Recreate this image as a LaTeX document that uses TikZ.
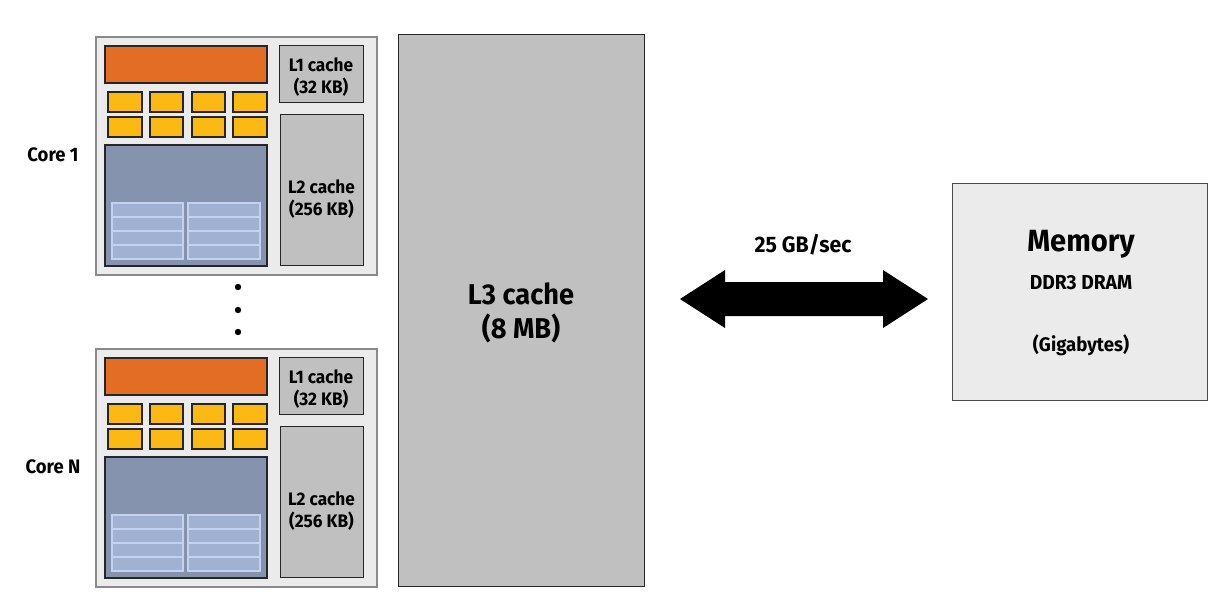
\documentclass[tikz,border=0pt]{standalone}
\usepackage{fontspec}
\setmainfont{Fira Sans}[FakeStretch=0.95,UprightFont=* SemiBold,BoldFont=* Bold]
\usetikzlibrary{positioning}
\definecolor{outerfill}{HTML}{EBEBEB}
\definecolor{outerline}{HTML}{8A8A8A}
\definecolor{cachefill}{HTML}{C0C0C0}
\definecolor{orangec}{HTML}{E46D25}
\definecolor{yellowc}{HTML}{FDB913}
\definecolor{bluec}{HTML}{8593AE}
\definecolor{gridfill}{HTML}{A0B1D2}
\definecolor{gridline}{HTML}{C4D2F2}
\tikzset{
  outerbox/.style={draw=outerline,fill=outerfill,line width=1pt},
  cachebox/.style={draw=black!85,fill=cachefill,line width=1pt},
  orangebox/.style={draw=black!85,fill=orangec,line width=1pt},
  yellowbox/.style={draw=black!85,fill=yellowc,line width=1pt},
  bluebox/.style={draw=black!85,fill=bluec,line width=1pt},
  gridbox/.style={draw=gridline,fill=gridfill,line width=1pt},
  lbl/.style={font=\fontsize{13.6}{16.5}\selectfont\bfseries,align=center,inner sep=0pt},
  corelbl/.style={font=\fontsize{14.6}{16}\selectfont\bfseries,inner sep=0pt},
  bigl/.style={font=\fontsize{21.5}{24}\selectfont\bfseries,align=center,inner sep=0pt},
}
\newcommand{\corebox}[3]{%
\begin{scope}[yshift=#1]
  \draw[outerbox] (96,37) rectangle (377,275);
  \draw[orangebox] (105,46) rectangle (267,83);
  \foreach \xa/\xb in {108/142,150/183,192/225,233/267}{
    \draw[yellowbox] (\xa,92) rectangle (\xb,112);
    \draw[yellowbox] (\xa,117) rectangle (\xb,137);
  }
  \draw[bluebox] (105,145) rectangle (267,266);
  \foreach \xa/\xb in {112/183,188/260}{
    \foreach \i in {0,1,2,3}{
      \draw[gridbox] (\xa,203+14*\i) rectangle (\xb,217+14*\i);
    }
  }
  \node[cachebox,minimum width=63pt,minimum height=42.75pt,inner sep=0pt,anchor=north west] (#2l1) at (279,45) {};
  \node[lbl] at (321,77) {L1 cache\\(32 KB)};
  \node[cachebox,minimum width=62.25pt,minimum height=113.25pt,inner sep=0pt,anchor=north west] (#2l2) at (280,114) {};
  \node[lbl] at (321.5,199) {L2 cache\\(256 KB)};
  \node[corelbl] (#2lab) at (53,155) {#3};
\end{scope}}
\begin{document}
\begin{tikzpicture}[x=0.75pt,y=-0.75pt]
\useasboundingbox (0,0) rectangle (1220,604);
\corebox{0}{ca}{Core 1}
\corebox{-234pt}{cb}{Core N}
\foreach \yy in {287,310,332}{\fill (238,\yy) circle (3.2);}
\node[cachebox,minimum width=184.5pt,minimum height=414pt,inner sep=0pt,anchor=north west] (l3) at (398,34) {};
\node[bigl] at (521,313) {L3 cache\\[2pt](8 MB)};
\node[draw=black!70,fill=outerfill,line width=1pt,minimum width=191.25pt,minimum height=162.75pt,inner sep=0pt,anchor=north west] (mem) at (952,183) {};
\node[font=\fontsize{23}{26}\selectfont\bfseries,inner sep=0pt] (memt) at (1081,244) {Memory};
\node[font=\fontsize{15.2}{17}\selectfont\bfseries,inner sep=0pt] (ddr) at (1081,283) {DDR3 DRAM};
\node[font=\fontsize{14.7}{17}\selectfont\bfseries,inner sep=0pt] (giga) at (1081,345) {(Gigabytes)};
\coordinate (at) at (680,299);
\coordinate (bt) at (928,299);
\fill (at) -- (725,270) -- (725,282) -- (883,282) -- (883,270) -- (bt) -- (883,328) -- (883,316) -- (725,316) -- (725,328) -- cycle;
\node[font=\fontsize{16.8}{19}\selectfont\bfseries,inner sep=0pt] (bw) at (803,245) {25 GB/sec};
\end{tikzpicture}
\end{document}
